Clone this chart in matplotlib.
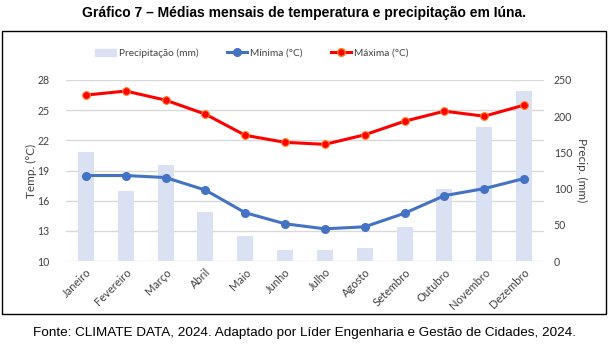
import matplotlib
matplotlib.use("Agg")
import matplotlib.pyplot as plt
from matplotlib.lines import Line2D
from matplotlib.patches import Rectangle
import numpy as np

months = ["Janeiro", "Fevereiro", "Março", "Abril", "Maio", "Junho",
          "Julho", "Agosto", "Setembro", "Outubro", "Novembro", "Dezembro"]
precip_mm = [150, 96, 132, 67, 35, 15, 15, 18, 47, 99, 185, 235]
temp_min = [18.5, 18.5, 18.3, 17.05, 14.8, 13.7, 13.2, 13.4, 14.75, 16.5, 17.2, 18.2]
temp_max = [26.5, 26.9, 26.0, 24.6, 22.5, 21.8, 21.6, 22.55, 23.9, 24.9, 24.4, 25.5]
temp_ticks = [10, 13, 16, 19, 22, 25, 28]
precip_ticks = [0, 50, 100, 150, 200, 250]

title = "Gráfico 7 – Médias mensais de temperatura e precipitação em Iúna."
source = "Fonte: CLIMATE DATA, 2024. Adaptado por Líder Engenharia e Gestão de Cidades, 2024."

BLUE = "#4472C4"
RED = "#FF0000"
BAR = "#DAE1F2"
GRID = "#D9D9D9"
TXT = "#404040"

plt.rcParams["font.family"] = ["Lato", "DejaVu Sans"]

W, H = 609, 344
fig = plt.figure(figsize=(W / 100, H / 100), dpi=100)

def fx(px):
    return px / W

def fy(py):
    return 1 - py / H

# frame around the chart block
fig.patches.append(Rectangle((fx(2), fy(314)), fx(604), 283 / H,
                             transform=fig.transFigure, fill=False,
                             edgecolor="black", linewidth=1.0))

arial = ["Liberation Sans", "DejaVu Sans"]
fig.text(0.5, fy(13), title, ha="center", va="center", fontsize=10,
         fontweight="bold", family=arial)
fig.text(0.5, fy(333), source, ha="center", va="center", fontsize=9.7,
         family=arial)

left, right, top, bottom = 66, 544, 80, 261
ax_t = fig.add_axes([fx(left), fy(bottom), (right - left) / W, (bottom - top) / H])
ax_p = ax_t.twinx()
ax_t.set_zorder(ax_p.get_zorder() + 1)
ax_t.patch.set_visible(False)

x = np.arange(len(months))

# precipitation bars (right axis)
ax_p.bar(x, precip_mm, width=0.4, color=BAR, zorder=2, label="Precipitação (mm)")
ax_p.set_ylim(0, 250)
ax_p.set_yticks(precip_ticks)

ax_t.set_ylim(10, 28)
ax_t.set_xlim(-0.5, len(months) - 0.5)
ax_t.set_yticks(temp_ticks)

# horizontal grid for the temperature ticks, drawn behind the bars
for t in temp_ticks:
    ax_p.add_line(Line2D([0, 1], [t, t], transform=ax_t.get_yaxis_transform(),
                         color=GRID, linewidth=1.0, zorder=1))
ax_p.set_ylim(0, 250)

# temperature lines (left axis)
ax_t.plot(x, temp_min, color=BLUE, linewidth=2.2, marker="o", markersize=5.5,
          markerfacecolor=BLUE, markeredgecolor=BLUE, label="Mínima (°C)", zorder=3)
ax_t.plot(x, temp_max, color=RED, linewidth=2.2, marker="o", markersize=5.5,
          markerfacecolor=RED, markeredgecolor="#FF7A1A", markeredgewidth=0.8,
          label="Máxima (°C)", zorder=4)

for a in (ax_t, ax_p):
    for s in a.spines.values():
        s.set_visible(False)
    a.tick_params(length=0, labelsize=7.6, colors=TXT)

ax_t.set_xticks(x)
ax_t.set_xticklabels(months, rotation=45, ha="right", rotation_mode="anchor")
ax_t.tick_params(axis="x", pad=4, labelsize=8)
ax_t.tick_params(axis="y", pad=12)
ax_p.tick_params(axis="y", pad=7)

ax_t.set_ylabel("Temp. (°C)", fontsize=8.5, color=TXT)
ax_t.yaxis.set_label_coords((37 - left) / (right - left), 0.5)
ax_p.set_ylabel("Precip. (mm)", fontsize=8.5, color=TXT, rotation=270, va="bottom")
ax_p.yaxis.set_label_coords((576 - left) / (right - left), 0.5)

# legend across the top of the chart block
handles = [Rectangle((0, 0), 1, 1, color=BAR),
           Line2D([], [], color=BLUE, linewidth=2.2, marker="o", markersize=5.5),
           Line2D([], [], color=RED, linewidth=2.2, marker="o", markersize=5.5,
                  markeredgecolor="#FF7A1A")]
labels = ["Precipitação (mm)", "Mínima (°C)", "Máxima (°C)"]
fig.legend(handles, labels, loc="center", bbox_to_anchor=(fx(252), fy(53)),
           ncol=3, frameon=False, fontsize=7.3, handlelength=2.0,
           columnspacing=2.8, handletextpad=0.3, labelcolor=TXT)

fig.savefig("out.png", dpi=100)
